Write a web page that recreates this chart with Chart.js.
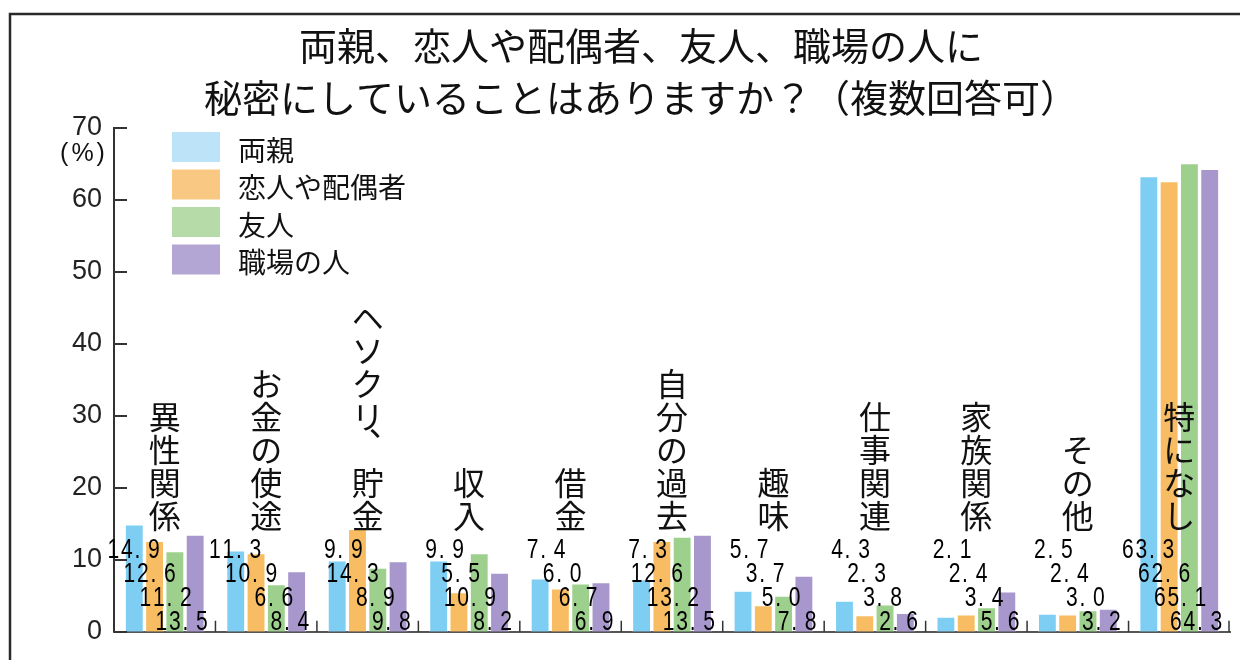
<!DOCTYPE html>
<html lang="ja">
<head>
<meta charset="utf-8">
<script src="https://cdn.jsdelivr.net/npm/chart.js@4.4.1/dist/chart.umd.min.js"></script>
<style>
    html, body { margin: 0; padding: 0; background: #fff; }
    #wrap { width: 1240px; height: 660px; }
</style>
</head>
<body>
<div id="wrap"><canvas id="secretChart" width="1240" height="660"></canvas></div>
<script>
'use strict';

/* ── data ─────────────────────────────────────────────────────────────── */
const TITLE_LINES = ['両親、恋人や配偶者、友人、職場の人に', '秘密にしていることはありますか？（複数回答可）'];
const CATEGORIES = ['異性関係', 'お金の使途', 'ヘソクリ、貯金', '収入', '借金', '自分の過去', '趣味', '仕事関連', '家族関係', 'その他', '特になし'];
const SERIES_NAMES = ['両親', '恋人や配偶者', '友人', '職場の人'];
const PARENTS   = [14.9, 11.3,  9.9,  9.9, 7.4,  7.3, 5.7, 4.3, 2.1, 2.5, 63.3];
const PARTNER   = [12.6, 10.9, 14.3,  5.5, 6.0, 12.6, 3.7, 2.3, 2.4, 2.4, 62.6];
const FRIENDS   = [11.2,  6.6,  8.9, 10.9, 6.7, 13.2, 5.0, 3.8, 3.4, 3.0, 65.1];
const COWORKERS = [13.5,  8.4,  9.8,  8.2, 6.9, 13.5, 7.8, 2.6, 5.6, 3.2, 64.3];
const Y_MAX = 70;
const Y_STEP = 10;
const UNIT_LABEL = '(%)';

const BAR_COLORS    = ['#7ecef4', '#f8bc63', '#9dd08c', '#a797cc'];
const LEGEND_COLORS = ['#bde3f8', '#f9c983', '#b7dba8', '#b3a6d4'];

const JP_FONT = '"Noto Sans CJK JP", "Noto Sans", sans-serif';
const NUM_FONT = '"Liberation Sans", Arial, sans-serif';

/* ── helpers ──────────────────────────────────────────────────────────── */

// narrow, fixed-pitch numbers like "14. 9" in the original
function drawNarrowNumber(ctx, text, right, cy) {
    const cell = 13.5;
    const chars = [...text];
    let x = right - chars.length * cell;
    chars.forEach(ch => {
        ctx.save();
        ctx.translate(x + cell / 2 + (ch === '.' ? -3 : 0), cy);
        ctx.scale(0.78, 1);
        ctx.fillText(ch, 0, 0);
        ctx.restore();
        x += cell;
    });
}

// vertical (tategaki) category label, bottom aligned
function drawVerticalLabel(ctx, text, cx, bottom, pitch) {
    const chars = [...text];
    const n = chars.length;
    chars.forEach((ch, k) => {
        const cy = bottom - pitch / 2 - (n - 1 - k) * pitch;
        if (ch === '、') {
            ctx.fillText(ch, cx + 17, cy - 26);
        } else {
            ctx.fillText(ch, cx, cy);
        }
    });
}

/* ── decorations plugin ──────────────────────────────────────────────── */
const decorPlugin = {
    id: 'decor',
    afterDraw(chart) {
        const ctx = chart.ctx;
        const xs = chart.scales.x;
        const ys = chart.scales.y;
        const area = chart.chartArea;

        ctx.save();

        // frame
        ctx.strokeStyle = '#2a2a2a';
        ctx.lineWidth = 2.5;
        ctx.beginPath();
        ctx.moveTo(10, 662);
        ctx.lineTo(10, 14);
        ctx.lineTo(1242, 14);
        ctx.stroke();

        // title
        ctx.fillStyle = '#111';
        ctx.textAlign = 'center';
        ctx.textBaseline = 'middle';
        ctx.font = '38px ' + JP_FONT;
        TITLE_LINES.forEach((line, i) => ctx.fillText(line, 641, 46 + i * 52));

        // unit under the top tick
        ctx.font = '25px ' + NUM_FONT;
        ctx.letterSpacing = '3px';
        ctx.fillText(UNIT_LABEL, 84, ys.getPixelForValue(Y_MAX) + 26);
        ctx.letterSpacing = '0px';

        // legend
        ctx.textAlign = 'left';
        ctx.font = '28px ' + JP_FONT;
        SERIES_NAMES.forEach((name, i) => {
            const top = 132 + i * 37.5;
            ctx.fillStyle = LEGEND_COLORS[i];
            ctx.fillRect(172, top, 48, 30);
            ctx.fillStyle = '#111';
            ctx.fillText(name, 238, top + 18);
        });

        // inward y ticks
        ctx.strokeStyle = '#333';
        ctx.lineWidth = 2;
        ctx.beginPath();
        for (let v = 0; v <= Y_MAX; v += Y_STEP) {
            const y = Math.round(ys.getPixelForValue(v));
            ctx.moveTo(area.left, y);
            ctx.lineTo(area.left + 13, y);
        }
        ctx.stroke();

        // small upward ticks at category boundaries
        const lastMeta = chart.getDatasetMeta(3);
        ctx.beginPath();
        ctx.lineWidth = 1.5;
        CATEGORIES.forEach((c, i) => {
            const bx = i < CATEGORIES.length - 1
                ? (xs.getPixelForValue(i) + xs.getPixelForValue(i + 1)) / 2
                : area.right - 1;
            ctx.moveTo(bx, area.bottom);
            ctx.lineTo(bx, area.bottom - 11);
        });
        ctx.stroke();

        // vertical category labels
        ctx.fillStyle = '#111';
        ctx.textAlign = 'center';
        ctx.textBaseline = 'middle';
        ctx.font = '32px ' + JP_FONT;
        CATEGORIES.forEach((c, i) => {
            drawVerticalLabel(ctx, c, xs.getPixelForValue(i), area.bottom - 99, 33);
        });

        // staircase value labels
        ctx.fillStyle = '#000';
        ctx.font = '27px ' + NUM_FONT;
        const all = [PARENTS, PARTNER, FRIENDS, COWORKERS];
        CATEGORIES.forEach((c, i) => {
            const bar = lastMeta.data[i];
            const groupRight = bar.x + bar.width / 2;
            all.forEach((series, row) => {
                const right = groupRight + 4 - (3 - row) * 16;
                const cy = area.bottom - 9 - (3 - row) * 24;
                drawNarrowNumber(ctx, series[i].toFixed(1), right, cy);
            });
        });

        ctx.restore();
    },
};

/* ── chart ───────────────────────────────────────────────────────────── */
const seriesData = [PARENTS, PARTNER, FRIENDS, COWORKERS];

new Chart(document.getElementById('secretChart').getContext('2d'), {
    type: 'bar',
    data: {
        labels: CATEGORIES,
        datasets: SERIES_NAMES.map((name, i) => ({
            label: name,
            data: seriesData[i],
            backgroundColor: BAR_COLORS[i],
            borderColor: 'rgba(255,255,255,0.55)',
            borderWidth: 1,
            categoryPercentage: 0.8,
            barPercentage: 0.93,
        })),
    },
    options: {
        responsive: false,
        animation: false,
        layout: { padding: { top: 128, right: 10, bottom: 24, left: 0 } },
        plugins: {
            legend: { display: false },
            tooltip: { enabled: false },
        },
        scales: {
            x: {
                grid: { display: false, drawTicks: false },
                ticks: { display: false },
                border: { color: '#555', width: 2 },
            },
            y: {
                min: 0,
                max: Y_MAX,
                ticks: { stepSize: Y_STEP, color: '#222', padding: 12, font: { family: NUM_FONT, size: 27 } },
                grid: { display: false, drawTicks: false },
                border: { color: '#333', width: 2 },
                afterFit: scale => { scale.width = 114; },
            },
        },
    },
    plugins: [decorPlugin],
});
</script>
</body>
</html>
